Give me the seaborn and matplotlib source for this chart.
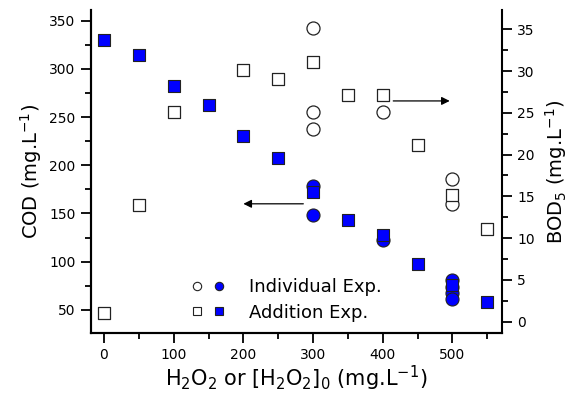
import numpy as np
import pandas as pd
import seaborn as sns
import matplotlib
matplotlib.use("Agg")
import matplotlib.pyplot as plt
from matplotlib.lines import Line2D
from matplotlib.legend_handler import HandlerTuple
from matplotlib.ticker import MultipleLocator

# ---- data ----
add_x = [0, 50, 100, 150, 200, 250, 300, 350, 400, 450, 500, 550]
add_cod = [330, 314, 282, 262, 230, 207, 172, 143, 128, 98, 76, 58.6]
add_bod_x = [0, 50, 100, 200, 250, 300, 350, 400, 450, 500, 550]
add_bod = [1.0, 14.0, 25.1, 30.1, 29.1, 31.1, 27.1, 27.1, 21.1, 15.2, 11.1]

ind_cod_x = [300, 300, 400, 500, 500, 500, 500]
ind_cod = [178, 148, 122.6, 81, 74, 67, 61]
ind_bod_x = [300, 300, 300, 400, 500, 500]
ind_bod = [35.1, 25.1, 23.1, 25.1, 17.1, 14.1]

x_ticks = [0, 100, 200, 300, 400, 500]
cod_ticks = [50, 100, 150, 200, 250, 300, 350]
bod_ticks = [0, 5, 10, 15, 20, 25, 30, 35]

BLUE = "#0000ff"
EDGE = "#222222"

sns.set_style("ticks")
plt.rcParams["font.family"] = ["DejaVu Sans"]
plt.rcParams["mathtext.fontset"] = "dejavusans"
for k in ["text.color", "axes.labelcolor", "xtick.color", "ytick.color", "axes.edgecolor"]:
    plt.rcParams[k] = "black"

fig = plt.figure(figsize=(5.76, 3.99), dpi=100)
ax = fig.add_axes([0.1575, 0.1654, 0.714, 0.8095])
ax2 = ax.twinx()

df_ic = pd.DataFrame({"x": ind_cod_x, "y": ind_cod})
df_ac = pd.DataFrame({"x": add_x, "y": add_cod})
df_ib = pd.DataFrame({"x": ind_bod_x, "y": ind_bod})
df_ab = pd.DataFrame({"x": add_bod_x, "y": add_bod})

sns.scatterplot(data=df_ic, x="x", y="y", ax=ax, marker="o", s=88,
                color=BLUE, edgecolor=EDGE, linewidth=0.8, legend=False, zorder=3)
sns.scatterplot(data=df_ac, x="x", y="y", ax=ax, marker="s", s=82,
                color=BLUE, edgecolor=EDGE, linewidth=0.8, legend=False, zorder=4)
sns.scatterplot(data=df_ib, x="x", y="y", ax=ax2, marker="o", s=88,
                color="white", edgecolor=EDGE, linewidth=0.9, legend=False, zorder=3)
sns.scatterplot(data=df_ab, x="x", y="y", ax=ax2, marker="s", s=82,
                color="white", edgecolor=EDGE, linewidth=0.9, legend=False, zorder=4)

ax.set_xlim(-19, 571)
ax.set_ylim(26, 361)
ax2.set_ylim(-1.35, 37.3)

ax.set_xticks(x_ticks)
ax.xaxis.set_minor_locator(MultipleLocator(50))
ax.set_yticks(cod_ticks)
ax.yaxis.set_minor_locator(MultipleLocator(25))
ax2.set_yticks(bod_ticks)
ax2.yaxis.set_minor_locator(MultipleLocator(2.5))

for a in (ax, ax2):
    a.spines["top"].set_visible(False)
    for s in a.spines.values():
        s.set_linewidth(1.5)
        s.set_color("black")
    a.tick_params(which="major", length=7.5, width=1.3, labelsize=10, direction="out",
                  color="black", labelcolor="black")
    a.tick_params(which="minor", length=4, width=1.3, direction="out", color="black")
ax.spines["right"].set_visible(False)

ax.set_xlabel(r"H$_2$O$_2$ or [H$_2$O$_2$]$_0$ (mg.L$^{-1}$)", fontsize=15, labelpad=1, color="black")
ax.set_ylabel(r"COD (mg.L$^{-1}$)", fontsize=14, labelpad=4, color="black")
ax2.set_ylabel(r"BOD$_5$ (mg.L$^{-1}$)", fontsize=14, labelpad=6, color="black")

# arrows
ax.annotate("", xy=(200, 160), xytext=(286, 160),
            arrowprops=dict(arrowstyle="-|>", color="black", lw=0.9,
                            mutation_scale=12, shrinkA=0, shrinkB=0))
ax.annotate("", xy=(496, 266.7), xytext=(415, 266.7),
            arrowprops=dict(arrowstyle="-|>", color="black", lw=0.9,
                            mutation_scale=12, shrinkA=0, shrinkB=0))

# legend
h_ind = (Line2D([], [], marker="o", ls="none", mfc="white", mec=EDGE, ms=6, mew=0.8),
         Line2D([], [], marker="o", ls="none", mfc=BLUE, mec=EDGE, ms=6, mew=0.8))
h_add = (Line2D([], [], marker="s", ls="none", mfc="white", mec=EDGE, ms=5.5, mew=0.8),
         Line2D([], [], marker="s", ls="none", mfc=BLUE, mec=EDGE, ms=5.5, mew=0.8))
leg = ax2.legend([h_ind, h_add], ["Individual Exp.", "Addition Exp."],
                 handler_map={tuple: HandlerTuple(ndivide=None, pad=0.6)},
                 loc="center left", bbox_to_anchor=(0.245, 0.102), frameon=False,
                 fontsize=13, handlelength=1.8, handletextpad=1.4, labelspacing=0.4,
                 borderpad=0, borderaxespad=0)
for t in leg.get_texts():
    t.set_color("black")

fig.savefig("out.png", dpi=100)
